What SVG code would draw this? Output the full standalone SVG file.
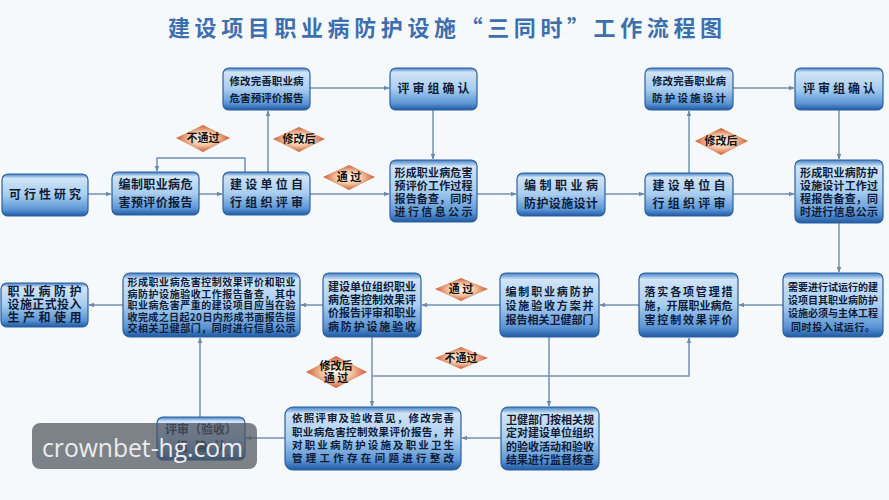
<svg xmlns="http://www.w3.org/2000/svg" width="889" height="500" viewBox="0 0 889 500">
<defs>
<linearGradient id="box" x1="0" y1="0" x2="0" y2="1">
<stop offset="0" stop-color="#3f7fc4"/>
<stop offset="0.1" stop-color="#d0e4f7"/>
<stop offset="0.5" stop-color="#a8cdef"/>
<stop offset="0.85" stop-color="#5a94d4"/>
<stop offset="1" stop-color="#1f5aa3"/>
</linearGradient>
<radialGradient id="dia" cx="50%" cy="50%" r="55%">
<stop offset="0" stop-color="#fff5ec"/>
<stop offset="0.45" stop-color="#f6c8a6"/>
<stop offset="1" stop-color="#c4461c"/>
</radialGradient>
<marker id="arr" viewBox="0 0 10 10" refX="9" refY="5" markerWidth="6" markerHeight="6" orient="auto" markerUnits="userSpaceOnUse">
<path d="M0,1 L10,5 L0,9 z" fill="#6d88a8"/>
</marker>
<style>
.b{fill:url(#box);stroke:#2b5f9f;stroke-width:1.2}
.t{font-family:"Noto Sans CJK SC","Noto Sans",sans-serif;font-weight:bold;font-size:12px;fill:#0f1c38;text-anchor:middle}
.m{font-size:10.5px}
.n{font-size:11px}
.s{font-size:10px}
.d{fill:url(#dia)}
.dt{font-family:"Noto Sans CJK SC","Noto Sans",sans-serif;font-weight:bold;font-size:11px;fill:#111;text-anchor:middle}
.c{fill:none;stroke:#7590ae;stroke-width:1.5}
</style>
</defs>
<rect width="889" height="500" fill="#f5f9fc"/>
<text x="445" y="36" font-family="'Noto Sans CJK SC',sans-serif" font-weight="bold" font-size="22" fill="#3d6fae" text-anchor="middle" textLength="554" lengthAdjust="spacing">建设项目职业病防护设施“三同时”工作流程图</text>

<g id="connectors">
<path class="c" d="M88,194 H111" marker-end="url(#arr)"/>
<path class="c" d="M199,194 H222" marker-end="url(#arr)"/>
<path class="c" d="M310,194 H389" marker-end="url(#arr)"/>
<path class="c" d="M268,172 V111" marker-end="url(#arr)"/>
<path class="c" d="M245,172 V158 H157 V171" marker-end="url(#arr)"/>
<path class="c" d="M310,88 H389" marker-end="url(#arr)"/>
<path class="c" d="M433,110 V159" marker-end="url(#arr)"/>
<path class="c" d="M477,194 H516" marker-end="url(#arr)"/>
<path class="c" d="M605,194 H644" marker-end="url(#arr)"/>
<path class="c" d="M689,173 V111" marker-end="url(#arr)"/>
<path class="c" d="M733,88 H794" marker-end="url(#arr)"/>
<path class="c" d="M839,110 V159" marker-end="url(#arr)"/>
<path class="c" d="M733,194 H794" marker-end="url(#arr)"/>
<path class="c" d="M839,223 V272" marker-end="url(#arr)"/>
<path class="c" d="M783,305 H739" marker-end="url(#arr)"/>
<path class="c" d="M639,305 H600" marker-end="url(#arr)"/>
<path class="c" d="M500,305 H422" marker-end="url(#arr)"/>
<path class="c" d="M323,305 H301" marker-end="url(#arr)"/>
<path class="c" d="M123,305 H89" marker-end="url(#arr)"/>
<path class="c" d="M549,337 V406" marker-end="url(#arr)"/>
<path class="c" d="M372,337 V406" marker-end="url(#arr)"/>
<path class="c" d="M372,376 H689 V338" marker-end="url(#arr)"/>
<path class="c" d="M200,417 V338" marker-end="url(#arr)"/>
<path class="c" d="M285,438 H246" marker-end="url(#arr)"/>
<path class="c" d="M501,438 H462" marker-end="url(#arr)"/>
</g>

<g id="labels">
<g id="lbl-butongguo1"><polygon class="d" points="176,138 203,125 230,138 203,152"/><text class="dt" x="203" y="142">不通过</text></g>
<g id="lbl-xiugaihou1"><polygon class="d" points="273,139 299,127 325,139 299,152"/><text class="dt" x="299" y="143">修改后</text></g>
<g id="lbl-tongguo1"><polygon class="d" points="323,177 349,165 375,177 349,190"/><text class="dt" x="349" y="181">通 过</text></g>
<g id="lbl-xiugaihou2"><polygon class="d" points="695,141 721,128 748,141 721,155"/><text class="dt" x="721" y="145">修改后</text></g>
<g id="lbl-tongguo2"><polygon class="d" points="435,289 461,278 488,289 461,301"/><text class="dt" x="461" y="293">通 过</text></g>
<g id="lbl-butongguo2"><polygon class="d" points="435,358 461,347 488,358 461,369"/><text class="dt" x="461" y="362">不通过</text></g>
<g id="lbl-xiugaihoutongguo"><polygon class="d" points="306,372 336,356 367,372 336,388"/><text class="dt"><tspan x="336" y="370">修改后</tspan><tspan x="336" y="382">通 过</tspan></text></g>
</g>

<g id="n-kexing"><rect class="b" x="2" y="174" width="86" height="42" rx="6"/><text class="t" x="45" y="199" textLength="72" lengthAdjust="spacing">可行性研究</text></g>
<g id="n-bianzhi1"><rect class="b" x="112" y="172" width="87" height="43" rx="6"/><text class="t"><tspan x="155.5" y="189" textLength="74" lengthAdjust="spacing">编制职业病危</tspan><tspan x="155.5" y="207" textLength="74" lengthAdjust="spacing">害预评价报告</tspan></text></g>
<g id="n-pingshen1"><rect class="b" x="223" y="172" width="87" height="43" rx="6"/><text class="t"><tspan x="266.5" y="189" textLength="73" lengthAdjust="spacing">建设单位自</tspan><tspan x="266.5" y="207" textLength="73" lengthAdjust="spacing">行组织评审</tspan></text></g>
<g id="n-xiugai1"><rect class="b" x="223" y="68" width="87" height="42" rx="6"/><text class="t m"><tspan x="266.5" y="85" textLength="74" lengthAdjust="spacing">修改完善职业病</tspan><tspan x="266.5" y="102" textLength="74" lengthAdjust="spacing">危害预评价报告</tspan></text></g>
<g id="n-queren1"><rect class="b" x="390" y="68" width="87" height="42" rx="6"/><text class="t" x="433.5" y="93" textLength="72" lengthAdjust="spacing">评审组确认</text></g>
<g id="n-xingcheng1"><rect class="b" x="390" y="160" width="87" height="62" rx="6"/><text class="t n"><tspan x="433.5" y="177" textLength="78" lengthAdjust="spacing">形成职业病危害</tspan><tspan x="433.5" y="190" textLength="78" lengthAdjust="spacing">预评价工作过程</tspan><tspan x="433.5" y="203" textLength="78" lengthAdjust="spacing">报告备查，同时</tspan><tspan x="433.5" y="216" textLength="78" lengthAdjust="spacing">进行信息公示</tspan></text></g>
<g id="n-bianzhi2"><rect class="b" x="517" y="173" width="88" height="43" rx="6"/><text class="t"><tspan x="561" y="190" textLength="74" lengthAdjust="spacing">编制职业病</tspan><tspan x="561" y="208" textLength="74" lengthAdjust="spacing">防护设施设计</tspan></text></g>
<g id="n-pingshen2"><rect class="b" x="645" y="173" width="88" height="43" rx="6"/><text class="t"><tspan x="689" y="190" textLength="73" lengthAdjust="spacing">建设单位自</tspan><tspan x="689" y="208" textLength="73" lengthAdjust="spacing">行组织评审</tspan></text></g>
<g id="n-xiugai2"><rect class="b" x="645" y="68" width="88" height="42" rx="6"/><text class="t m"><tspan x="689" y="85" textLength="74" lengthAdjust="spacing">修改完善职业病</tspan><tspan x="689" y="102" textLength="74" lengthAdjust="spacing">防护设施设计</tspan></text></g>
<g id="n-queren2"><rect class="b" x="795" y="68" width="88" height="42" rx="6"/><text class="t" x="839" y="93" textLength="72" lengthAdjust="spacing">评审组确认</text></g>
<g id="n-xingcheng2"><rect class="b" x="795" y="160" width="88" height="63" rx="6"/><text class="t n"><tspan x="839" y="177" textLength="78" lengthAdjust="spacing">形成职业病防护</tspan><tspan x="839" y="190" textLength="78" lengthAdjust="spacing">设施设计工作过</tspan><tspan x="839" y="203" textLength="78" lengthAdjust="spacing">程报告备查，同</tspan><tspan x="839" y="216" textLength="78" lengthAdjust="spacing">时进行信息公示</tspan></text></g>

<g id="n-shiyunxing"><rect class="b" x="783" y="273" width="100" height="64" rx="6"/><text class="t s"><tspan x="833" y="291" textLength="90" lengthAdjust="spacing">需要进行试运行的建</tspan><tspan x="833" y="304" textLength="90" lengthAdjust="spacing">设项目其职业病防护</tspan><tspan x="833" y="317" textLength="90" lengthAdjust="spacing">设施必须与主体工程</tspan><tspan x="833" y="331" textLength="84" lengthAdjust="spacing">同时投入试运行。</tspan></text></g>
<g id="n-luoshi"><rect class="b" x="639" y="273" width="99" height="64" rx="6"/><text class="t n"><tspan x="688.5" y="296" textLength="88" lengthAdjust="spacing">落实各项管理措</tspan><tspan x="688.5" y="310" textLength="88" lengthAdjust="spacing">施，开展职业病危</tspan><tspan x="688.5" y="324" textLength="88" lengthAdjust="spacing">害控制效果评价</tspan></text></g>
<g id="n-yanshoufangan"><rect class="b" x="500" y="273" width="99" height="64" rx="6"/><text class="t n"><tspan x="549.5" y="296" textLength="88" lengthAdjust="spacing">编制职业病防护</tspan><tspan x="549.5" y="310" textLength="88" lengthAdjust="spacing">设施验收方案并</tspan><tspan x="549.5" y="324" textLength="88" lengthAdjust="spacing">报告相关卫健部门</tspan></text></g>
<g id="n-zuzhiyanshou"><rect class="b" x="323" y="273" width="98" height="64" rx="6"/><text class="t n"><tspan x="372" y="291" textLength="88" lengthAdjust="spacing">建设单位组织职业</tspan><tspan x="372" y="304" textLength="88" lengthAdjust="spacing">病危害控制效果评</tspan><tspan x="372" y="317" textLength="88" lengthAdjust="spacing">价报告评审和职业</tspan><tspan x="372" y="331" textLength="88" lengthAdjust="spacing">病防护设施验收</tspan></text></g>
<g id="n-baogao"><rect class="b" x="123" y="273" width="177" height="64" rx="7"/><text class="t s"><tspan x="211.5" y="286" textLength="168" lengthAdjust="spacing">形成职业病危害控制效果评价和职业</tspan><tspan x="211.5" y="297.5" textLength="168" lengthAdjust="spacing">病防护设施验收工作报告备查，其中</tspan><tspan x="211.5" y="309" textLength="168" lengthAdjust="spacing">职业病危害严重的建设项目应当在验</tspan><tspan x="211.5" y="320.5" textLength="168" lengthAdjust="spacing">收完成之日起20日内形成书面报告提</tspan><tspan x="211.5" y="332" textLength="168" lengthAdjust="spacing">交相关卫健部门，同时进行信息公示</tspan></text></g>
<g id="n-touru"><rect class="b" x="1" y="283" width="87" height="44" rx="6"/><text class="t"><tspan x="44.5" y="296" textLength="74" lengthAdjust="spacing">职业病防护</tspan><tspan x="44.5" y="309" textLength="74" lengthAdjust="spacing">设施正式投入</tspan><tspan x="44.5" y="322" textLength="74" lengthAdjust="spacing">生产和使用</tspan></text></g>

<g id="n-queren3"><rect class="b" x="157" y="417" width="88" height="43" rx="6"/><text class="t"><tspan x="201" y="434" textLength="72" lengthAdjust="spacing">评审（验收）</tspan><tspan x="201" y="451" textLength="50" lengthAdjust="spacing">组确认</tspan></text></g>
<g id="n-zhenggai"><rect class="b" x="285" y="407" width="176" height="63" rx="8"/><text class="t m"><tspan x="373" y="422" textLength="162" lengthAdjust="spacing">依照评审及验收意见，修改完善</tspan><tspan x="373" y="436" textLength="162" lengthAdjust="spacing">职业病危害控制效果评价报告，并</tspan><tspan x="373" y="449" textLength="162" lengthAdjust="spacing">对职业病防护设施及职业卫生</tspan><tspan x="373" y="462" textLength="162" lengthAdjust="spacing">管理工作存在问题进行整改</tspan></text></g>
<g id="n-jiancha"><rect class="b" x="501" y="407" width="98" height="63" rx="7"/><text class="t n"><tspan x="550" y="424" textLength="88" lengthAdjust="spacing">卫健部门按相关规</tspan><tspan x="550" y="437" textLength="88" lengthAdjust="spacing">定对建设单位组织</tspan><tspan x="550" y="451" textLength="88" lengthAdjust="spacing">的验收活动和验收</tspan><tspan x="550" y="464" textLength="88" lengthAdjust="spacing">结果进行监督核查</tspan></text></g>

<g id="watermark"><rect x="32" y="423" width="225" height="46" rx="8" fill="#4f535b" opacity="0.72"/><text x="42" y="457" font-family="'Open Sans',sans-serif" font-size="25" fill="#ececec" textLength="201" lengthAdjust="spacingAndGlyphs">crownbet-hg.com</text></g>
</svg>
